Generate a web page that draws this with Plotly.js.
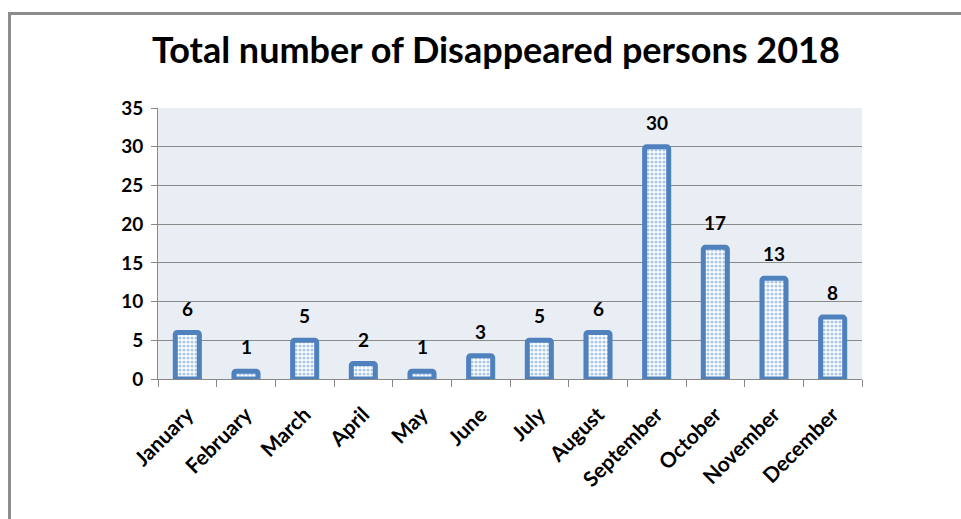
<!DOCTYPE html>
<html>
<head>
<meta charset="utf-8">
<script src="https://cdn.plot.ly/plotly-3.0.1.min.js"></script>
<style>
  html, body { margin: 0; padding: 0; background: #fff; }
  #wrap { position: relative; width: 961px; height: 519px; overflow: hidden; }
  #chart { width: 961px; height: 519px; }
  #frame { position: absolute; left: 8px; top: 12px; width: 1000px; height: 600px;
           border-left: 3px solid #8c8c8c; border-top: 3px solid #8c8c8c; pointer-events: none; }
</style>
</head>
<body>
<div id="wrap">
  <div id="chart"></div>
  <div id="frame"></div>
</div>
<script>
const months = ["January", "February", "March", "April", "May", "June", "July",
                "August", "September", "October", "November", "December"];
const disappeared = [6, 1, 5, 2, 1, 3, 5, 6, 30, 17, 13, 8];
const yTicks = [0, 5, 10, 15, 20, 25, 30, 35];

const fontFam = "Lato, 'Open Sans', 'DejaVu Sans', sans-serif";

const trace = {
  type: "bar",
  x: months,
  y: disappeared,
  width: 0.41,
  marker: {
    color: "#ffffff",
    cornerradius: 2,
    line: { color: "#4F81BD", width: 5 },
    pattern: { shape: ".", fgcolor: "#5B8FD2", bgcolor: "#ffffff", size: 4, solidity: 0.5, fillmode: "overlay" }
  },
  hoverinfo: "skip"
};

const labels = months.map((m, i) => ({
  x: m,
  y: disappeared[i],
  xref: "x",
  yref: "y",
  text: "<b>" + disappeared[i] + "</b>",
  showarrow: false,
  yanchor: "bottom",
  yshift: 11,
  font: { family: fontFam, size: 19, color: "#000" }
}));

const layout = {
  width: 961,
  height: 519,
  margin: { l: 158, r: 99, t: 108, b: 140 },
  paper_bgcolor: "#ffffff",
  plot_bgcolor: "#E9EDF4",
  showlegend: false,
  title: {
    text: "<b>Total number of Disappeared persons 2018</b>",
    font: { family: fontFam, size: 36, color: "#000" },
    x: 0.516, xanchor: "center",
    y: 0.903, yanchor: "middle"
  },
  annotations: labels,
  xaxis: {
    type: "category",
    tickangle: -45,
    tickson: "boundaries",
    ticks: "outside",
    ticklen: 7,
    tickcolor: "#888",
    tickwidth: 1,
    showline: true,
    linecolor: "#888",
    linewidth: 1,
    showgrid: false,
    ticklabelstandoff: 14,
    tickfont: { family: fontFam, size: 21, color: "#000", weight: "bold" },
    fixedrange: true
  },
  yaxis: {
    range: [0, 35],
    tickvals: yTicks,
    ticktext: yTicks.map(String),
    ticks: "outside",
    ticklen: 6,
    tickcolor: "#888",
    showline: true,
    linecolor: "#888",
    linewidth: 1,
    showgrid: true,
    gridcolor: "#8a8a8a",
    gridwidth: 1,
    zeroline: false,
    ticklabelstandoff: 4,
    tickfont: { family: fontFam, size: 19, color: "#000", weight: "bold" },
    fixedrange: true
  }
};

Plotly.newPlot("chart", [trace], layout, { displayModeBar: false, staticPlot: true });
</script>
</body>
</html>
